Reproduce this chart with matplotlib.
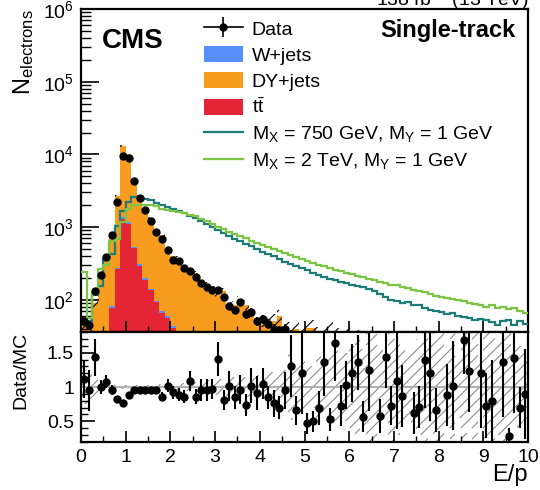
import numpy as np
import matplotlib
matplotlib.use('Agg')
import matplotlib.pyplot as plt
from matplotlib.patches import Patch
from matplotlib.lines import Line2D
from matplotlib.legend_handler import HandlerTuple
from matplotlib.ticker import MultipleLocator, NullFormatter

plt.rcParams['font.family'] = ['Liberation Sans', 'DejaVu Sans']
plt.rcParams['mathtext.default'] = 'regular'
plt.rcParams['hatch.linewidth'] = 0.8

# 80 bins of E/p between 0 and 10
edges = np.linspace(0.0, 10.0, 81)
centers = 0.5 * (edges[:-1] + edges[1:])

data = [51, 45, 130, 221, 385, 766, 2220, 9600, 9000, 4250,
        2520, 1700, 1230, 850, 690, 490, 356, 345, 271, 251,
        203, 170, 151, 135, 137, 108, 82, 72, 94, 63,
        68, 51, 54, 47, 40, 38, 40,
        33, 26, 30, 20, 19, 21, 30, 20, 30, 18, 20, 21, 22, 11, 20,
        0, 9, 15, 8, 9, 7, 0, 5, 6, 9, 7, 5, 0, 4, 5, 0, 7, 5, 0, 4,
        3, 4, 0, 4, 1, 4, 2, 2]

dy_jets = [44, 45, 88, 219, 343, 738, 2423, 11645, 9025, 4015,
           2372, 1651, 1179, 823, 721, 440, 352, 345, 284, 230,
           219, 167, 152, 135, 111, 127, 79, 83, 95, 83,
           65, 54, 51, 54, 51, 59, 41, 33, 39, 32,
           41, 40, 29, 30, 37, 30, 28, 26, 25, 22,
           20, 19, 17, 16, 15, 14, 13, 12, 11, 10,
           9, 9, 8, 8, 7, 7, 6, 6, 5, 5,
           5, 4, 4, 4, 3, 3, 3, 3, 3, 2]

ttbar = [1, 1, 2, 5, 25, 78, 265, 1300, 1120, 510,
         294, 190, 135, 93, 66, 57, 41, 28, 20, 14,
         10, 7, 5, 4, 3, 2, 2, 1, 1, 1, 1, 1] + [0] * 48

w_jets = [1, 1, 1, 1, 2, 4, 12, 55, 55, 25,
          14, 9, 6, 4, 3, 3, 2, 2, 1, 1,
          1, 1, 1, 1, 1, 1, 1, 1, 1, 1] + [0.5] * 50

sig_750 = [51, 51, 116, 155, 363, 430, 1050, 1640, 2210, 2600,
           2600, 2400, 2350, 2170, 1990, 1880, 1750, 1640, 1540, 1430,
           1350, 1230, 1120, 1010, 920, 830, 750, 690, 640, 590,
           545, 495, 460, 425, 395, 360, 335, 315, 290, 270,
           255, 235, 220, 205, 195, 185, 178, 170, 162, 155,
           148, 141, 132, 120, 108, 100, 96, 90, 94, 86,
           84, 76, 72, 70, 68, 64, 65, 60, 58, 57,
           53, 55, 52, 50, 45, 51, 52, 45, 51, 46]

sig_2000 = [240, 57, 126, 265, 300, 650, 690, 1170, 1780, 1990,
            2020, 2020, 1990, 1930, 1780, 1720, 1660, 1600, 1540, 1470,
            1400, 1300, 1200, 1100, 1010, 930, 860, 800, 745, 700,
            650, 610, 570, 530, 495, 470, 440, 410, 385, 360,
            340, 320, 305, 290, 275, 258, 248, 236, 225, 215,
            205, 196, 186, 178, 170, 162, 158, 150, 144, 138,
            132, 126, 120, 114, 110, 106, 102, 98, 95, 91,
            88, 85, 80, 84, 78, 79, 74, 78, 70, 66]

nan = np.nan
ratio = [1.11, 0.95, 1.43, 1.00, 1.08, 0.96, 0.83, 0.76, 0.89, 0.95,
         0.95, 0.95, 0.96, 0.96, 0.86, 1.02, 0.92, 0.89, 0.86, 1.09,
         0.86, 0.96, 0.95, 0.97, 1.41, 0.81, 1.02, 0.85, 0.96, 0.74,
         1.02, 0.91, 1.05, 0.85, 0.76, 0.70, 0.95, 1.31, 0.66, 1.20,
         0.47, 0.50, 0.69, 1.37, 0.53, 1.64, 0.73, 1.03, 1.20, 1.36,
         0.57, 1.25, nan, 0.58, 1.43, 0.73, 1.09, 0.87, nan, 0.62,
         0.71, 1.39, 1.20, 0.66, nan, 0.88, 1.02, nan, 1.69, 1.24,
         nan, 1.20, 0.73, 0.79, nan, 1.36, 0.28, 1.42, 0.70, 0.90]

ratio_err = [0.27, 0.30, 0.27, 0.10, 0.10, 0.07, 0.04, 0.03, 0.03, 0.03,
             0.03, 0.03, 0.03, 0.04, 0.06, 0.10, 0.10, 0.10, 0.10, 0.15,
             0.11, 0.16, 0.16, 0.15, 0.25, 0.14, 0.22, 0.17, 0.21, 0.16,
             0.25, 0.25, 0.23, 0.17, 0.20, 0.17, 0.27, 0.45, 0.21, 0.60,
             0.15, 0.15, 0.25, 0.50, 0.17, 0.55, 0.30, 0.35, 0.42, 0.40,
             0.22, 0.60, nan, 0.25, 0.45, 0.28, 0.70, 0.45, nan, 0.30,
             0.30, 0.70, 0.70, 0.32, nan, 0.45, 0.65, nan, 0.50, 0.60,
             nan, 0.80, 0.47, 0.60, nan, 0.80, 0.12, 0.80, 0.30, 0.65]

mc_unc = [0.25, 0.22, 0.15, 0.08, 0.06, 0.05, 0.03, 0.03, 0.03, 0.03,
          0.03, 0.03, 0.03, 0.03, 0.04, 0.05, 0.05, 0.06, 0.06, 0.07,
          0.08, 0.09, 0.10, 0.10, 0.12, 0.12, 0.13, 0.14, 0.15, 0.15,
          0.16, 0.17, 0.18, 0.20, 0.22, 0.22, 0.25, 0.48, 0.30, 0.40,
          0.35, 0.30, 0.45, 0.40, 0.50, 0.55, 0.45, 0.50, 0.60, 0.70,
          0.55, 0.80, 0.80, 0.60, 0.50, 0.80, 0.70, 0.60, 0.50, 0.55,
          0.70, 0.80, 0.65, 0.80, 0.80, 0.60, 0.80, 0.45, 0.80, 0.60,
          0.80, 0.40, 0.80, 0.80, 0.70, 0.80, 0.80, 0.55, 0.60, 0.50]

c_dy = '#f89c20'
c_w = '#5790fc'
c_tt = '#e42536'
c_750 = '#1e7b78'
c_2000 = '#7cc443'

fig = plt.figure(figsize=(5.4, 4.9), dpi=100)
ax = fig.add_axes([0.15, 0.3224, 0.828, 0.6592])
rax = fig.add_axes([0.15, 0.098, 0.828, 0.2244])

tt = np.array(ttbar, dtype=float)
w = np.array(w_jets, dtype=float)
dy = np.array(dy_jets, dtype=float)
floor = 1e-2
ax.stairs(tt + floor, edges, baseline=floor, fill=True, color=c_tt, zorder=1)
ax.stairs(tt + w + floor, edges, baseline=tt + floor, fill=True, color=c_w, zorder=1)
total = tt + w + dy + floor
ax.stairs(total, edges, baseline=tt + w + floor, fill=True, color=c_dy, zorder=1)

unc = np.array(mc_unc)
ax.stairs(total * (1 + unc), edges, baseline=total * (1 - unc), fill=True,
          facecolor='none', edgecolor='black', hatch='///', linewidth=0, zorder=2)

ax.stairs(sig_750, edges, baseline=None, color=c_750, linewidth=1.6, zorder=3)
ax.stairs(sig_2000, edges, baseline=None, color=c_2000, linewidth=1.6, zorder=3)

d = np.array(data, dtype=float)
m = d > 0
ax.errorbar(centers[m], d[m], yerr=np.sqrt(d[m]), fmt='o', color='black',
            ms=5, elinewidth=1.2, capsize=0, zorder=4)

ax.set_yscale('log')
ax.set_xlim(0, 10)
ax.set_ylim(36, 1e6)
ax.set_yticks([1e2, 1e3, 1e4, 1e5, 1e6])
ax.yaxis.set_minor_formatter(NullFormatter())
ax.xaxis.set_major_locator(MultipleLocator(1))
ax.xaxis.set_minor_locator(MultipleLocator(0.5))
ax.tick_params(axis='x', which='major', direction='in', length=8, width=1.2,
               labelbottom=False)
ax.tick_params(axis='x', which='minor', direction='in', length=4, width=1.0)
ax.tick_params(axis='y', which='major', direction='in', length=13, width=1.2,
               labelsize=14, pad=5)
ax.tick_params(axis='y', which='minor', direction='in', length=7, width=1.0)
for s in ax.spines.values():
    s.set_linewidth(1.6)

ax.set_ylabel(r'N$_{electrons}$', fontsize=17, loc='top')
ax.yaxis.set_label_coords(-0.10, 1.0)

ax.text(0.047, 0.879, 'CMS', transform=ax.transAxes, fontsize=20,
        fontweight='bold', va='baseline')
ax.text(0.971, 0.913, 'Single-track', transform=ax.transAxes, fontsize=17,
        fontweight='bold', va='baseline', ha='right')
ax.text(1.0, 1.012, r'138 fb$^{-1}$ (13 TeV)', transform=ax.transAxes,
        fontsize=14, va='baseline', ha='right')

h_data = (Line2D([], [], color='black', lw=1.2),
          Line2D([], [], marker='|', ms=15, mew=1.2, color='black', ls='none'),
          Line2D([], [], marker='o', ms=5, color='black', ls='none'))
handles = [h_data,
           Patch(facecolor=c_w),
           Patch(facecolor=c_dy),
           Patch(facecolor=c_tt),
           Line2D([], [], color=c_750, lw=1.6),
           Line2D([], [], color=c_2000, lw=1.6)]
labels = ['Data', 'W+jets', 'DY+jets', r't$\bar{t}$',
          r'M$_{X}$ = 750 GeV, M$_{Y}$ = 1 GeV',
          r'M$_{X}$ = 2 TeV, M$_{Y}$ = 1 GeV']
ax.legend(handles, labels, loc='upper left', bbox_to_anchor=(0.275, 0.966),
          frameon=False, fontsize=14, handlelength=2.0, handleheight=0.93,
          handletextpad=0.46, labelspacing=0.36, borderpad=0, borderaxespad=0,
          handler_map={tuple: HandlerTuple(ndivide=1)})

# ratio panel
rax.stairs(1 + unc, edges, baseline=1 - unc, fill=True, facecolor='none',
           edgecolor='#8c8c8c', hatch='///', linewidth=0, zorder=1)
rax.axhline(1.0, color='#b0b0b0', lw=1.5, zorder=2)
rax.errorbar(centers, ratio, yerr=ratio_err, fmt='o', color='black', ms=5,
             elinewidth=1.5, capsize=0, zorder=3)
rax.set_xlim(0, 10)
rax.set_ylim(0.2, 1.8)
rax.set_yticks([0.5, 1.0, 1.5])
rax.set_yticklabels(['0.5', '1', '1.5'])
rax.yaxis.set_minor_locator(MultipleLocator(0.1))
rax.xaxis.set_major_locator(MultipleLocator(1))
rax.xaxis.set_minor_locator(MultipleLocator(0.5))
rax.tick_params(axis='x', which='major', direction='in', length=8, width=1.2,
                labelsize=14, pad=5)
rax.tick_params(axis='x', which='minor', direction='in', length=4, width=1.0)
rax.tick_params(axis='y', which='major', direction='in', length=10, width=1.2,
                labelsize=14, pad=5)
rax.tick_params(axis='y', which='minor', direction='in', length=5, width=1.0)
for s in rax.spines.values():
    s.set_linewidth(1.6)

rax.set_ylabel('Data/MC', fontsize=14, loc='top')
rax.yaxis.set_label_coords(-0.115, 1.0)
rax.set_xlabel('E/p', fontsize=17, loc='right')
rax.xaxis.set_label_coords(1.0, -0.20)

fig.savefig('out.png', dpi=100)
